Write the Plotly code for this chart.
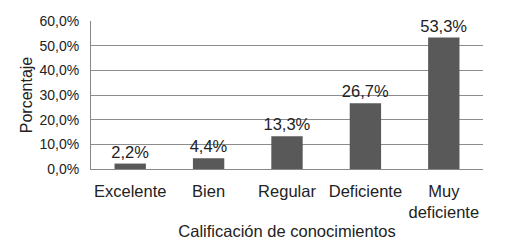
import plotly.graph_objects as go

categories = ["Excelente", "Bien", "Regular", "Deficiente", "Muy<br>deficiente"]
values = [2.2, 4.4, 13.3, 26.7, 53.3]
labels = ["2,2%", "4,4%", "13,3%", "26,7%", "53,3%"]
tick_vals = [0, 10, 20, 30, 40, 50, 60]
tick_text = ["0,0%", "10,0%", "20,0%", "30,0%", "40,0%", "50,0%", "60,0%"]

font = "Liberation Sans, Arial, sans-serif"

fig = go.Figure(go.Bar(
    x=categories, y=values, text=labels, textposition="outside",
    marker=dict(color="#595959", line=dict(width=0)),
    textfont=dict(family=font, size=16.5, color="#222"),
    constraintext="none",
    cliponaxis=False, width=0.4,
))
fig.update_layout(
    width=499, height=239,
    margin=dict(l=83, r=24, t=13, b=78, autoexpand=False),
    paper_bgcolor="white", plot_bgcolor="white",
    font=dict(family=font, size=14, color="#222"),
    showlegend=False,
    xaxis=dict(
        title=dict(text="Calificación de conocimientos", font=dict(size=16.5), standoff=5),
        showline=True, linecolor="#888", linewidth=1, ticks="",
        tickfont=dict(size=16.5), automargin=False, ticklabelstandoff=7,
    ),
    yaxis=dict(
        title=dict(text="Porcentaje", font=dict(size=16), standoff=2),
        range=[0, 60], tickvals=tick_vals, ticktext=tick_text,
        showgrid=True, gridcolor="#8c8c8c", gridwidth=1,
        showline=True, linecolor="#888", linewidth=1, ticks="",
        zeroline=False, tickfont=dict(size=14), automargin=False,
        ticklabelstandoff=8,
    ),
)
fig.write_html("out.html")
